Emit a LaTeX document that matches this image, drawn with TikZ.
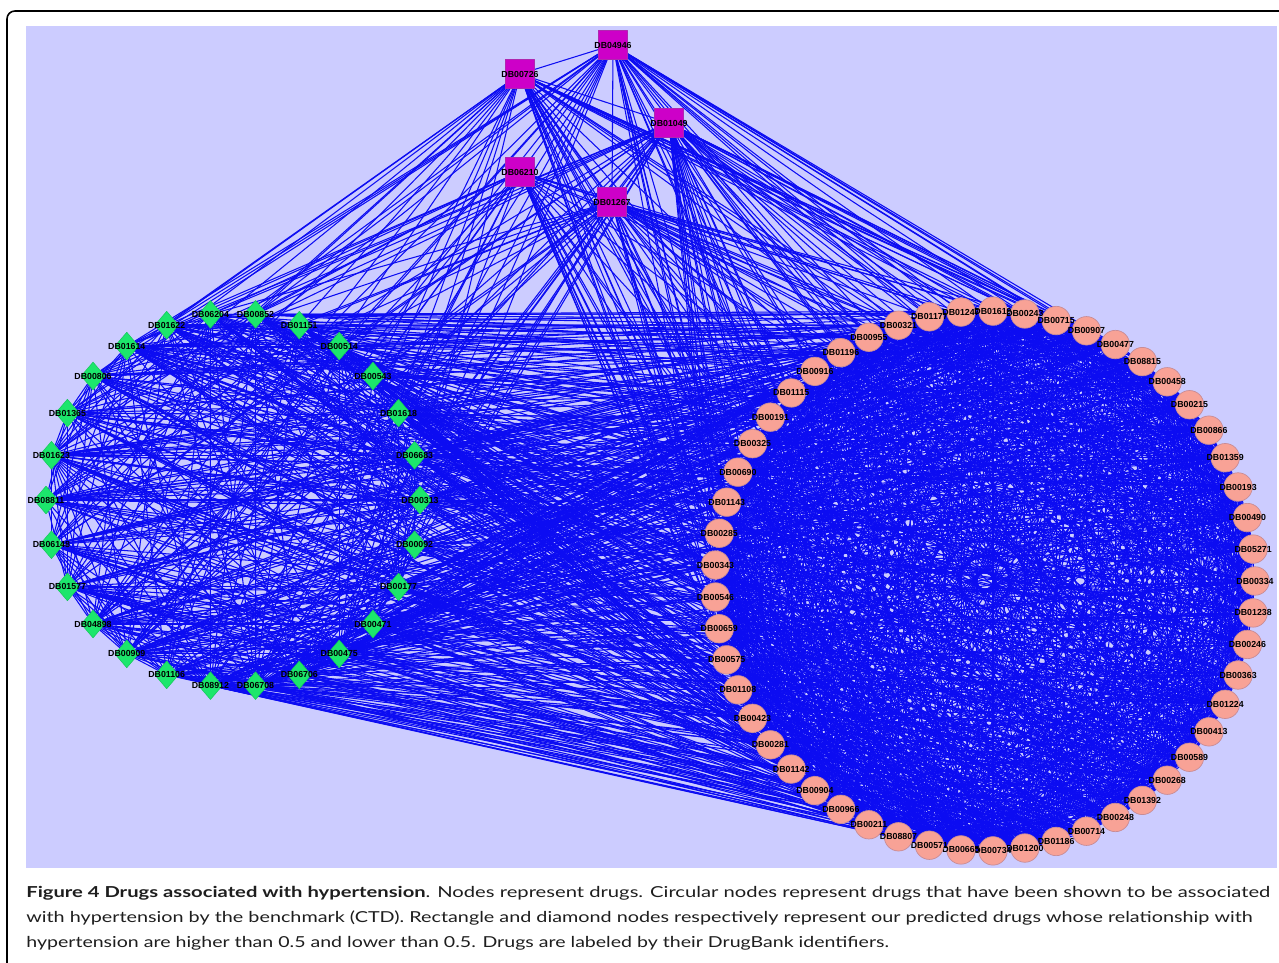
\documentclass[tikz,border=0pt]{standalone}
\usepackage{fontspec}
\setmainfont{Liberation Sans}
\newfontfamily\capfont{Lato}
\usetikzlibrary{shapes.geometric}
\definecolor{panel}{RGB}{204,204,255}
\definecolor{edgeblue}{RGB}{12,12,242}
\definecolor{sqfill}{RGB}{205,0,200}
\definecolor{sqline}{RGB}{175,40,175}
\definecolor{diafill}{RGB}{28,230,108}
\definecolor{dialine}{RGB}{20,200,90}
\definecolor{circfill}{RGB}{248,162,150}
\definecolor{circline}{RGB}{200,140,150}
\definecolor{captext}{RGB}{30,30,30}
\pgfdeclarelayer{bg}
\pgfdeclarelayer{edges}
\pgfsetlayers{bg,edges,main}

\begin{document}
\begin{tikzpicture}[x=0.02cm,y=-0.02cm,line join=round,line cap=round,
	edge/.style={draw=edgeblue,line width=0.6pt},
	lbl/.style={font=\fontsize{5}{6}\selectfont\bfseries,inner sep=0pt,text=black},
	sq/.style={rectangle,minimum size=16.4pt,inner sep=0pt,fill=sqfill,draw=sqline,line width=0.4pt},
	dia/.style={diamond,minimum width=13.6pt,minimum height=15.9pt,inner sep=0pt,fill=diafill,draw=dialine,line width=0.3pt},
	circ/.style={circle,minimum size=16.2pt,inner sep=0pt,fill=circfill,draw=circline,line width=0.4pt},
	captxt/.style={anchor=base west,inner sep=0pt,font=\capfont\fontsize{8.6}{10}\selectfont,text=captext}]
	\useasboundingbox (0,0) rectangle (1279,963);
	\begin{pgfonlayer}{bg}
		\fill[white] (0,0) rectangle (1279,963);
		\fill[panel] (26,26) rectangle (1277,868);
		\draw[line width=0.9pt,rounded corners=4.5pt] (7,963)--(7,11)--(1279,11);
	\end{pgfonlayer}

	% predicted drugs, score above 0.5
	\node[sq,label={[lbl]center:DB04946}] (s1) at (613,45) {};
	\node[sq,label={[lbl]center:DB00726}] (s2) at (520,74) {};
	\node[sq,label={[lbl]center:DB01049}] (s3) at (669,123) {};
	\node[sq,label={[lbl]center:DB06210}] (s4) at (520,172) {};
	\node[sq,label={[lbl]center:DB01267}] (s5) at (612,202) {};

	% predicted drugs, score below 0.5
	\foreach \lab [count=\k] in {DB06204,DB00852,DB01151,DB00514,DB00543,DB01618,DB06683,DB00313,DB00092,DB00177,DB00471,DB00475,DB06706,DB06708,DB08912,DB01106,DB00909,DB04898,DB01577,DB06148,DB08811,DB01623,DB01365,DB00806,DB01614,DB01622}{
		\pgfmathsetmacro\ang{90+180/26-(\k-1)*360/26}
		\node[dia,label={[lbl]center:\lab}] (d\k) at ({233+187*cos(\ang)},{500-187*sin(\ang)}) {};
	}

	% benchmark drugs (CTD)
	\foreach \lab [count=\k] in {DB00321,DB01177,DB01247,DB01619,DB00243,DB00715,DB00907,DB00477,DB08815,DB00458,DB00215,DB00866,DB01359,DB00193,DB00490,DB05271,DB00334,DB01238,DB00246,DB00363,DB01224,DB00413,DB00589,DB00268,DB01392,DB00248,DB00714,DB01186,DB01200,DB00734,DB00665,DB00571,DB08807,DB00211,DB00966,DB00904,DB01142,DB00281,DB00423,DB01108,DB00575,DB00659,DB00546,DB00343,DB00285,DB01143,DB00690,DB00325,DB00191,DB01115,DB00916,DB01196,DB00955}{
		\pgfmathsetmacro\ang{(17-\k)*360/53}
		\node[circ,label={[lbl]center:\lab}] (c\k) at ({985+270*cos(\ang)},{581-270*sin(\ang)}) {};
	}

	\begin{pgfonlayer}{edges}
		\pgfmathsetseed{2718}
		\foreach \i in {1,...,52}{
			\pgfmathtruncatemacro\jj{\i+1}
			\foreach \j in {\jj,...,53}{
				\pgfmathtruncatemacro\keep{rnd<0.72}
				\ifnum\keep=1 \draw[edge] (c\i)--(c\j);\fi
			}
		}
		\foreach \i in {1,...,25}{
			\pgfmathtruncatemacro\jj{\i+1}
			\foreach \j in {\jj,...,26}{
				\pgfmathtruncatemacro\keep{rnd<0.6}
				\ifnum\keep=1 \draw[edge] (d\i)--(d\j);\fi
			}
		}
		\foreach \i in {1,...,26}{
			\foreach \j in {1,...,53}{
				\pgfmathtruncatemacro\keep{rnd<0.4}
				\ifnum\keep=1 \draw[edge] (d\i)--(c\j);\fi
			}
		}
		\foreach \i in {1,...,5}{
			\foreach \j in {1,...,26}{
				\pgfmathtruncatemacro\keep{rnd<0.55}
				\ifnum\keep=1 \draw[edge] (s\i)--(d\j);\fi
			}
			\foreach \j in {1,...,53}{
				\pgfmathtruncatemacro\keep{rnd<0.5}
				\ifnum\keep=1 \draw[edge] (s\i)--(c\j);\fi
			}
		}
		\draw[edge] (s1)--(s2) (s2)--(s3) (s1)--(s5) (s2)--(s5);
	\end{pgfonlayer}

	\node[captxt] (cap1) at (26,897) {\resizebox{708pt}{\height}{\textbf{Figure 4 Drugs associated with hypertension}. Nodes represent drugs. Circular nodes represent drugs that have been shown to be associated}};
	\node[captxt] (cap2) at (26,922) {\resizebox{698pt}{\height}{with hypertension by the benchmark (CTD). Rectangle and diamond nodes respectively represent our predicted drugs whose relationship with}};
	\node[captxt] (cap3) at (26,947) {\resizebox{491pt}{\height}{hypertension are higher than 0.5 and lower than 0.5. Drugs are labeled by their DrugBank identifiers.}};
\end{tikzpicture}
\end{document}
